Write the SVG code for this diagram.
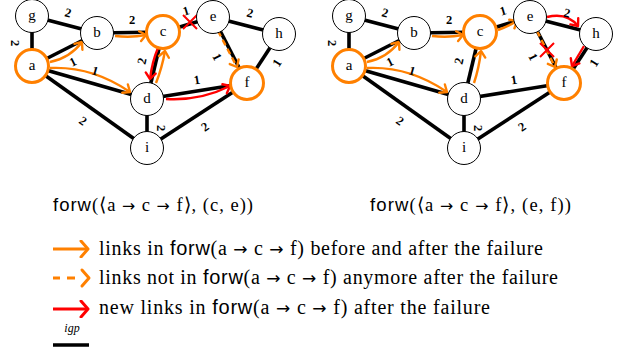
<svg xmlns="http://www.w3.org/2000/svg" width="632" height="350" viewBox="0 0 632 350">
<style>
.edge{stroke:#000;stroke-width:3.6;fill:none}
.nd{fill:#fff;stroke:#000;stroke-width:1}
.ndo{fill:#fff;stroke:#ff8000;stroke-width:3}
.nl{font-family:'Liberation Serif',serif;font-size:15px;text-anchor:middle;fill:#000}
.wl{font-family:'Liberation Serif',serif;font-size:12.5px;font-weight:bold;text-anchor:middle;dominant-baseline:central;fill:#000}
.ao{stroke:#ff8000;stroke-width:2.4;fill:none;marker-end:url(#ho)}
.aod{stroke:#ff8000;stroke-width:2.4;fill:none;stroke-dasharray:6 4;marker-end:url(#ho)}
.ar{stroke:#ff0000;stroke-width:2.4;fill:none;marker-end:url(#hr)}
.x{stroke:#ff0000;stroke-width:2;fill:none}
.txt{font-family:'Liberation Serif',serif;font-size:20px;fill:#000}
.cap{font-family:'Liberation Serif',serif;font-size:18.5px;fill:#000}
.sf{font-family:'Liberation Sans',sans-serif}
.am{font-family:'DejaVu Sans',sans-serif;font-size:0.85em}
</style>
<defs>
<marker id="ho" viewBox="-9 -7 11 14" markerWidth="11" markerHeight="14" refX="0" refY="0" orient="auto" markerUnits="userSpaceOnUse">
<path d="M-6,-5 L0,0 L-6,5" fill="none" stroke="#ff8000" stroke-width="2.4" stroke-linejoin="round" stroke-linecap="round"/>
</marker>
<marker id="hr" viewBox="-9 -7 11 14" markerWidth="11" markerHeight="14" refX="0" refY="0" orient="auto" markerUnits="userSpaceOnUse">
<path d="M-6,-5 L0,0 L-6,5" fill="none" stroke="#ff0000" stroke-width="2.4" stroke-linejoin="round" stroke-linecap="round"/>
</marker>
<marker id="hol" viewBox="-10 -9 12 18" markerWidth="12" markerHeight="18" refX="0" refY="0" orient="auto" markerUnits="userSpaceOnUse">
<path d="M-7,-8 L0,0 L-7,8" fill="none" stroke="#ff8000" stroke-width="3" stroke-linejoin="round" stroke-linecap="round"/>
</marker>
<marker id="hrl" viewBox="-10 -9 12 18" markerWidth="12" markerHeight="18" refX="0" refY="0" orient="auto" markerUnits="userSpaceOnUse">
<path d="M-7,-8 L0,0 L-7,8" fill="none" stroke="#ff0000" stroke-width="3" stroke-linejoin="round" stroke-linecap="round"/>
</marker>
</defs>

<!-- LEFT DIAGRAM -->
<g id="left">
<g id="left-connectors">
<line class="edge" x1="32" y1="16" x2="97" y2="33"/>
<line class="edge" x1="32" y1="16" x2="32" y2="66"/>
<line class="edge" x1="32" y1="66" x2="97" y2="33"/>
<line class="edge" x1="97" y1="33" x2="163" y2="32"/>
<line class="edge" x1="163" y1="32" x2="213" y2="17"/>
<line class="edge" x1="213" y1="17" x2="279" y2="34"/>
<line class="edge" x1="213" y1="17" x2="247" y2="83"/>
<line class="edge" x1="279" y1="34" x2="247" y2="83"/>
<line class="edge" x1="163" y1="32" x2="147" y2="99"/>
<line class="edge" x1="32" y1="66" x2="147" y2="99"/>
<line class="edge" x1="147" y1="99" x2="247" y2="83"/>
<line class="edge" x1="32" y1="66" x2="147" y2="148"/>
<line class="edge" x1="147" y1="99" x2="147" y2="148"/>
<line class="edge" x1="147" y1="148" x2="247" y2="83"/>
<path class="ao" d="M50,62 Q70,58 82,42"/>
<path class="ao" d="M115,36 Q131,38 146,35"/>
<path class="ao" d="M50,68 Q92,66 130,92"/>
<path class="ar" d="M158,48 Q152,62 150,79"/>
<path class="ao" d="M156,83 Q162,68 165,51"/>
<path class="aod" d="M218,31 L237,67"/>
<path class="ar" d="M166,99 Q200,101 230,86"/>
<path class="x" d="M183,15 L197,29 M183,29 L197,15"/>
</g>
<g id="left-labels">
<text class="wl" transform="translate(68,13) rotate(15)">2</text>
<text class="wl" transform="translate(15,43) rotate(90)">2</text>
<text class="wl" transform="translate(73,62) rotate(-27)">1</text>
<text class="wl" transform="translate(132,20)">2</text>
<text class="wl" transform="translate(186,11) rotate(-17)">1</text>
<text class="wl" transform="translate(250,13) rotate(14)">2</text>
<text class="wl" transform="translate(217,57) rotate(63)">1</text>
<text class="wl" transform="translate(277,63) rotate(-57)">1</text>
<text class="wl" transform="translate(142,61) rotate(-77)">2</text>
<text class="wl" transform="translate(95,71) rotate(16)">1</text>
<text class="wl" transform="translate(197,80) rotate(-9)">1</text>
<text class="wl" transform="translate(83,121) rotate(36)">2</text>
<text class="wl" transform="translate(161,128) rotate(90)">2</text>
<text class="wl" transform="translate(205,127) rotate(-34)">2</text>
</g>
<g id="L-g"><circle class="nd" cx="32" cy="16" r="16.5"/><text class="nl" x="32" y="20">g</text></g>
<g id="L-b"><circle class="nd" cx="97" cy="33" r="16.5"/><text class="nl" x="97" y="37">b</text></g>
<g id="L-c"><circle class="ndo" cx="163" cy="32" r="16.5"/><text class="nl" x="163" y="36">c</text></g>
<g id="L-e"><circle class="nd" cx="213" cy="17" r="16.5"/><text class="nl" x="213" y="21">e</text></g>
<g id="L-h"><circle class="nd" cx="279" cy="34" r="16.5"/><text class="nl" x="279" y="38">h</text></g>
<g id="L-a"><circle class="ndo" cx="32" cy="66" r="16.5"/><text class="nl" x="32" y="70">a</text></g>
<g id="L-d"><circle class="nd" cx="147" cy="99" r="16.5"/><text class="nl" x="147" y="103">d</text></g>
<g id="L-f"><circle class="ndo" cx="247" cy="83" r="16.5"/><text class="nl" x="247" y="87">f</text></g>
<g id="L-i"><circle class="nd" cx="147" cy="148" r="16.5"/><text class="nl" x="147" y="152">i</text></g>
</g>

<!-- RIGHT DIAGRAM -->
<g id="right" transform="translate(317,0)">
<g id="right-connectors">
<line class="edge" x1="32" y1="16" x2="97" y2="33"/>
<line class="edge" x1="32" y1="16" x2="32" y2="66"/>
<line class="edge" x1="32" y1="66" x2="97" y2="33"/>
<line class="edge" x1="97" y1="33" x2="163" y2="32"/>
<line class="edge" x1="163" y1="32" x2="213" y2="17"/>
<line class="edge" x1="213" y1="17" x2="279" y2="34"/>
<line class="edge" x1="213" y1="17" x2="247" y2="83"/>
<line class="edge" x1="279" y1="34" x2="247" y2="83"/>
<line class="edge" x1="163" y1="32" x2="147" y2="99"/>
<line class="edge" x1="32" y1="66" x2="147" y2="99"/>
<line class="edge" x1="147" y1="99" x2="247" y2="83"/>
<line class="edge" x1="32" y1="66" x2="147" y2="148"/>
<line class="edge" x1="147" y1="99" x2="147" y2="148"/>
<line class="edge" x1="147" y1="148" x2="247" y2="83"/>
<path class="ao" d="M50,62 Q70,58 82,42"/>
<path class="ao" d="M115,36 Q131,38 146,35"/>
<path class="ao" d="M50,68 Q92,66 130,92"/>
<path class="ao" d="M157,83 Q162,68 164,51"/>
<path class="ao" d="M181,30 Q190,27 200,21"/>
<path class="ar" d="M230,17 Q250,12 261,26"/>
<path class="ar" d="M267,46 L255,66"/>
<path class="aod" d="M220,31 L238,67"/>
<path class="x" d="M223,43 L237,57 M223,57 L237,43"/>
</g>
<g id="right-labels">
<text class="wl" transform="translate(68,13) rotate(15)">2</text>
<text class="wl" transform="translate(15,43) rotate(90)">2</text>
<text class="wl" transform="translate(73,62) rotate(-27)">1</text>
<text class="wl" transform="translate(132,20)">2</text>
<text class="wl" transform="translate(186,11) rotate(-17)">1</text>
<text class="wl" transform="translate(250,13) rotate(14)">2</text>
<text class="wl" transform="translate(216,57) rotate(63)">1</text>
<text class="wl" transform="translate(277,63) rotate(-57)">1</text>
<text class="wl" transform="translate(142,61) rotate(-77)">2</text>
<text class="wl" transform="translate(95,71) rotate(16)">1</text>
<text class="wl" transform="translate(197,80) rotate(-9)">1</text>
<text class="wl" transform="translate(83,121) rotate(36)">2</text>
<text class="wl" transform="translate(161,128) rotate(90)">2</text>
<text class="wl" transform="translate(205,127) rotate(-34)">2</text>
</g>
<g id="R-g"><circle class="nd" cx="32" cy="16" r="16.5"/><text class="nl" x="32" y="20">g</text></g>
<g id="R-b"><circle class="nd" cx="97" cy="33" r="16.5"/><text class="nl" x="97" y="37">b</text></g>
<g id="R-c"><circle class="ndo" cx="163" cy="32" r="16.5"/><text class="nl" x="163" y="36">c</text></g>
<g id="R-e"><circle class="nd" cx="213" cy="17" r="16.5"/><text class="nl" x="213" y="21">e</text></g>
<g id="R-h"><circle class="nd" cx="279" cy="34" r="16.5"/><text class="nl" x="279" y="38">h</text></g>
<g id="R-a"><circle class="ndo" cx="32" cy="66" r="16.5"/><text class="nl" x="32" y="70">a</text></g>
<g id="R-d"><circle class="nd" cx="147" cy="99" r="16.5"/><text class="nl" x="147" y="103">d</text></g>
<g id="R-f"><circle class="ndo" cx="247" cy="83" r="16.5"/><text class="nl" x="247" y="87">f</text></g>
<g id="R-i"><circle class="nd" cx="147" cy="148" r="16.5"/><text class="nl" x="147" y="152">i</text></g>
</g>

<!-- CAPTIONS -->
<text class="cap" x="53" y="211" textLength="200" lengthAdjust="spacing"><tspan class="sf">forw</tspan>(⟨a <tspan class="am">→</tspan> c <tspan class="am">→</tspan> f⟩, (c, e))</text>
<text class="cap" x="370" y="211" textLength="201" lengthAdjust="spacing"><tspan class="sf">forw</tspan>(⟨a <tspan class="am">→</tspan> c <tspan class="am">→</tspan> f⟩, (e, f))</text>

<!-- LEGEND -->
<g id="legend">
<line x1="53" y1="249" x2="88" y2="249" stroke="#ff8000" stroke-width="3" marker-end="url(#hol)"/>
<path d="M53,278 H60 M67,278 H75" stroke="#ff8000" stroke-width="3" fill="none"/>
<path d="M82,270 L89,278 L82,286" stroke="#ff8000" stroke-width="3" fill="none" stroke-linejoin="round" stroke-linecap="round"/>
<line x1="53" y1="309" x2="88" y2="309" stroke="#ff0000" stroke-width="3" marker-end="url(#hrl)"/>
<line x1="53" y1="345" x2="89" y2="345" stroke="#000" stroke-width="3.6"/>
<text x="72" y="332" font-family="'Liberation Serif', serif" font-style="italic" font-size="12" text-anchor="middle">igp</text>
<text class="txt" x="99" y="255" textLength="444" lengthAdjust="spacing">links in <tspan class="sf">forw</tspan>(a <tspan class="am">→</tspan> c <tspan class="am">→</tspan> f) before and after the failure</text>
<text class="txt" x="99" y="284" textLength="459" lengthAdjust="spacing">links not in <tspan class="sf">forw</tspan>(a <tspan class="am">→</tspan> c <tspan class="am">→</tspan> f) anymore after the failure</text>
<text class="txt" x="99" y="314" textLength="391" lengthAdjust="spacing">new links in <tspan class="sf">forw</tspan>(a <tspan class="am">→</tspan> c <tspan class="am">→</tspan> f) after the failure</text>
</g>
</svg>
